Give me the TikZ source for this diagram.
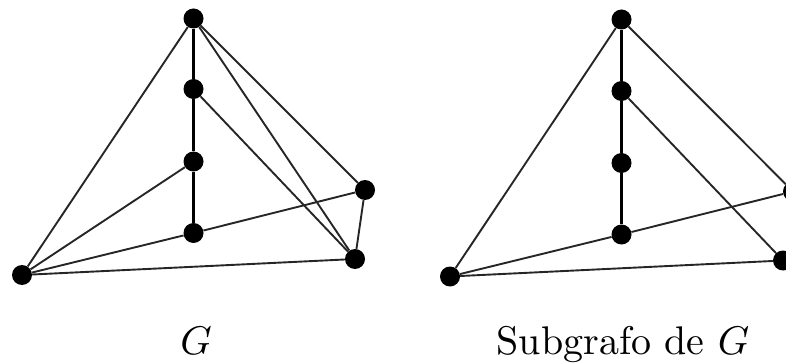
\documentclass[tikz,border=0pt]{standalone}
\begin{document}
\begin{tikzpicture}[x=1pt,y=-1pt,
  vtx/.style={circle,fill=black,inner sep=0pt,minimum size=20pt},
  edge/.style={line width=1.9pt,black!85},
  spine/.style={line width=2.5pt,black},
  lbl/.style={scale=4,anchor=base,inner sep=0pt}]
\useasboundingbox (0,0) rectangle (786,363);
\clip (0,0) rectangle (786,363);
% left graph G
\node[vtx] (t1) at (193.5,18.5) {};
\node[vtx] (a1) at (193.5,89) {};
\node[vtx] (b1) at (193.5,161.5) {};
\node[vtx] (c1) at (193.5,233) {};
\node[vtx] (l1) at (22,275) {};
\node[vtx] (p1) at (365,190) {};
\node[vtx] (q1) at (355,259) {};
\draw[spine] (t1) -- (a1) -- (b1) -- (c1);
\draw[edge] (t1) -- (l1);
\draw[edge] (t1) -- (p1);
\draw[edge] (t1) -- (q1);
\draw[edge] (a1) -- (q1);
\draw[edge] (b1) -- (l1);
\draw[edge] (c1) -- (l1);
\draw[edge] (c1) -- (p1);
\draw[edge] (l1) -- (q1);
\draw[edge] (p1) -- (q1);
% right graph: subgraph
\node[vtx] (t2) at (621.5,19.5) {};
\node[vtx] (a2) at (621.5,91) {};
\node[vtx] (b2) at (621.5,163) {};
\node[vtx] (c2) at (621.5,234.5) {};
\node[vtx] (l2) at (450,276.5) {};
\node[vtx] (p2) at (793,191.5) {};
\node[vtx] (q2) at (783,260.5) {};
\draw[spine] (t2) -- (a2) -- (b2) -- (c2);
\draw[edge] (t2) -- (l2);
\draw[edge] (t2) -- (p2);
\draw[edge] (a2) -- (q2);
\draw[edge] (c2) -- (l2);
\draw[edge] (c2) -- (p2);
\draw[edge] (l2) -- (q2);
% labels
\node[lbl] (g1) at (196,354) {$G$};
\node[lbl] (g2) at (623,354) {Subgrafo de $G$};
\end{tikzpicture}
\end{document}
